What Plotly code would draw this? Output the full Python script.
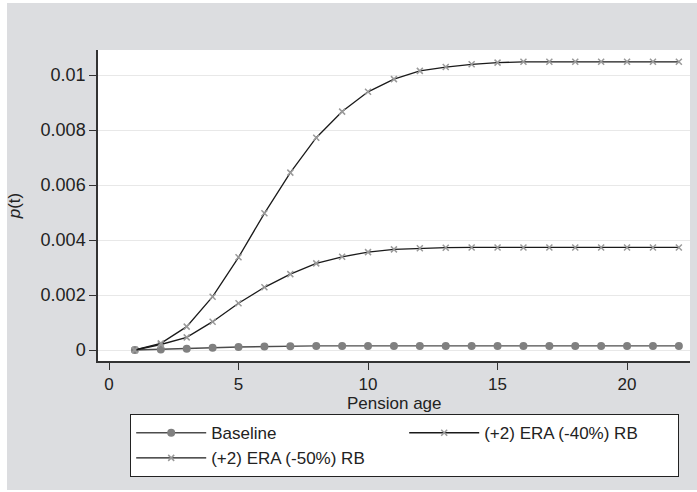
import plotly.graph_objects as go

ages = list(range(1, 23))
baseline = [0.0, 0.00002, 0.00005, 0.00008, 0.00011, 0.00013, 0.00014, 0.00015, 0.00015, 0.00015,
            0.00015, 0.00015, 0.00015, 0.00015, 0.00015, 0.00015, 0.00015, 0.00015, 0.00015, 0.00015,
            0.00015, 0.00015]
era40 = [0.0, 0.00020, 0.00046, 0.00103, 0.00170, 0.00228, 0.00276, 0.00315, 0.00339, 0.00356,
         0.00366, 0.00370, 0.00372, 0.00373, 0.00373, 0.00373, 0.00373, 0.00373, 0.00373, 0.00373,
         0.00373, 0.00373]
era50 = [0.0, 0.00024, 0.00085, 0.00194, 0.00337, 0.00497, 0.00645, 0.00772, 0.00867, 0.00939,
         0.00985, 0.01015, 0.01029, 0.01039, 0.01045, 0.01048, 0.01048, 0.01048, 0.01048, 0.01048,
         0.01048, 0.01048]
series_names = ["Baseline", "(+2) ERA (-40%) RB", "(+2) ERA (-50%) RB"]
y_ticks = [0, 0.002, 0.004, 0.006, 0.008, 0.01]
y_tick_labels = ["0", "0.002", "0.004", "0.006", "0.008", "0.01"]
x_ticks = [0, 5, 10, 15, 20]
x_title = "Pension age"
y_title = "<i>p</i>(t)"

FONT = "Liberation Sans, Arial, Helvetica, sans-serif"
FS = 17

fig = go.Figure()
fig.add_trace(go.Scatter(
    x=ages, y=baseline, name=series_names[0], mode="lines+markers",
    line=dict(color="#4d4d4d", width=1.4),
    marker=dict(symbol="circle", size=8, color="#808080"),
))
fig.add_trace(go.Scatter(
    x=ages, y=era40, name=series_names[1], mode="lines+markers",
    line=dict(color="#1a1a1a", width=1.3),
    marker=dict(symbol="x-thin", size=6, line=dict(color="#9a9a9a", width=1.5)),
))
fig.add_trace(go.Scatter(
    x=ages, y=era50, name=series_names[2], mode="lines+markers",
    line=dict(color="#1a1a1a", width=1.3),
    marker=dict(symbol="x-thin", size=6, line=dict(color="#9a9a9a", width=1.5)),
))

W, H = 697, 492
L, R, T, B = 98, 7, 50, 131
pw, ph = W - L - R, H - T - B


def px_x(p):
    return (p - L) / pw


def px_y(p):
    return (H - B - p) / ph


shapes = [
    dict(type="rect", xref="paper", yref="paper", layer="below",
         x0=px_x(7), x1=px_x(697), y0=px_y(490), y1=px_y(3),
         fillcolor="#dcdde0", line=dict(width=0)),
    dict(type="rect", xref="paper", yref="paper", layer="below",
         x0=0, x1=1, y0=0, y1=1, fillcolor="white", line=dict(width=0)),
]

annotations = [
    dict(text=x_title, xref="paper", yref="paper", x=0.5, y=px_y(403),
         xanchor="center", yanchor="middle", showarrow=False,
         font=dict(family=FONT, size=FS, color="#222222")),
]

fig.update_layout(
    width=W, height=H,
    margin=dict(l=L, r=R, t=T, b=B),
    paper_bgcolor="white",
    plot_bgcolor="white",
    font=dict(family=FONT, size=FS, color="#222222"),
    shapes=shapes,
    annotations=annotations,
    showlegend=True,
    legend=dict(
        orientation="h", x=px_x(130), y=px_y(414), xanchor="left", yanchor="top",
        bgcolor="white", bordercolor="#222222", borderwidth=1.2,
        entrywidth=188, entrywidthmode="pixels", itemwidth=70,
        font=dict(family=FONT, size=FS, color="#222222"),
        traceorder="normal",
    ),
    xaxis=dict(
        range=[-0.425, 22.43], tickvals=x_ticks, ticks="outside", ticklen=7,
        tickcolor="#333333", tickwidth=1.2, showgrid=False, zeroline=False,
        showline=True, linecolor="#333333", linewidth=1.5,
        tickfont=dict(size=FS),
    ),
    yaxis=dict(
        range=[-0.0004, 0.01091], tickvals=y_ticks, ticktext=y_tick_labels,
        ticks="outside", ticklen=7, tickcolor="#333333", tickwidth=1.2,
        showgrid=True, gridcolor="#e8e8e8", gridwidth=1, zeroline=False,
        showline=True, linecolor="#333333", linewidth=1.5,
        title=dict(text=y_title, standoff=16, font=dict(size=FS)),
        tickfont=dict(size=18),
    ),
)

fig.write_html("out.html")
